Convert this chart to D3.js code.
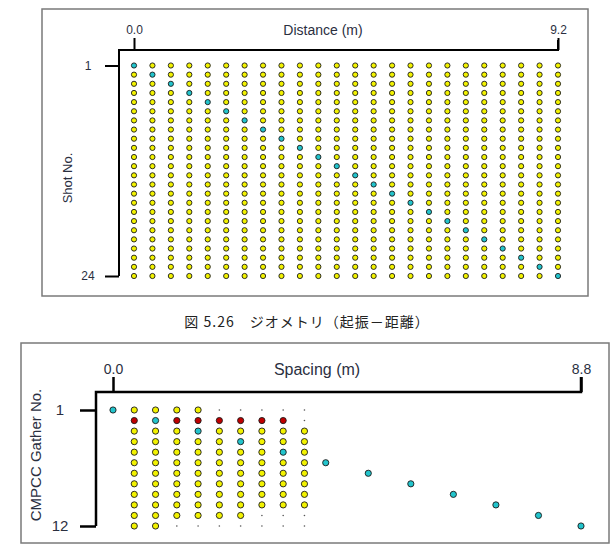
<!DOCTYPE html>
<html>
<head>
<meta charset="utf-8">
<script src="https://cdn.jsdelivr.net/npm/d3@7"></script>
<style>
  body { margin: 0; background: #fff; }
  text { font-family: "Liberation Sans", Arial, sans-serif; fill: #2b2f3f; }
</style>
</head>
<body>
<div id="chart"></div>
<script>
// top panel: shot / receiver geometry
const distance = [0.0, 0.4, 0.8, 1.2, 1.6, 2.0, 2.4, 2.8, 3.2, 3.6, 4.0, 4.4,
                  4.8, 5.2, 5.6, 6.0, 6.4, 6.8, 7.2, 7.6, 8.0, 8.4, 8.8, 9.2];
const shotNo = [1, 2, 3, 4, 5, 6, 7, 8, 9, 10, 11, 12,
                13, 14, 15, 16, 17, 18, 19, 20, 21, 22, 23, 24];
// source position of each shot (m)
const shotPos = [0.0, 0.4, 0.8, 1.2, 1.6, 2.0, 2.4, 2.8, 3.2, 3.6, 4.0, 4.4,
                 4.8, 5.2, 5.6, 6.0, 6.4, 6.8, 7.2, 7.6, 8.0, 8.4, 8.8, 9.2];
const topTicksX = [0.0, 9.2];
const topTicksY = [1, 24];

// bottom panel: CMPCC gathers
const spacing = [0.0, 0.4, 0.8, 1.2, 1.6, 2.0, 2.4, 2.8, 3.2, 3.6, 4.0, 4.4,
                 4.8, 5.2, 5.6, 6.0, 6.4, 6.8, 7.2, 7.6, 8.0, 8.4, 8.8];
const gatherNo = [1, 2, 3, 4, 5, 6, 7, 8, 9, 10, 11, 12];
// c = cyan, y = yellow, r = red, . = small dot, blank = nothing
const gatherRows = [
  "cyyyy.....",
  " rcrrrrrr.",
  " yyycyyyyy",
  " yyyyycyyy",
  " yyyyyyycy",
  " yyyyyyyyyc",
  " yyyyyyyyy  c",
  " yyyyyyyyy    c",
  " yyyyyyyyy      c",
  " yyyyyyyyy        c",
  " yyyyyy...          c",
  " yy.......            c"
];
const botTicksX = [0.0, 8.8];
const botTicksY = [1, 12];

const colors = { y: "#f2f200", c: "#22c4cc", r: "#c00000" };

const svg = d3.select("#chart").append("svg")
  .attr("width", 614).attr("height", 557);
svg.append("rect").attr("width", 614).attr("height", 557).attr("fill", "#fff");

// ---------- top panel ----------
svg.append("rect")
  .attr("x", 42).attr("y", 9).attr("width", 546).attr("height", 287)
  .attr("fill", "none").attr("stroke", "#7a7a7a").attr("stroke-width", 1.5);

const x1 = d3.scaleLinear().domain([0, 9.2]).range([134, 558]);
const y1 = d3.scaleLinear().domain([1, 24]).range([65.5, 276]);

const axTop1 = svg.append("g").attr("transform", "translate(0,50)")
  .call(d3.axisTop(x1).tickValues(topTicksX).tickSize(12).tickSizeOuter(0)
    .tickFormat(d3.format(".1f")));
axTop1.select(".domain").remove();
axTop1.selectAll("line").attr("stroke", "#000").attr("stroke-width", 2);
axTop1.selectAll("text").attr("font-size", 12).attr("dy", "-0.1em").style("fill", "#2b2f3f");

const axLeft1 = svg.append("g").attr("transform", "translate(119,0)")
  .call(d3.axisLeft(y1).tickValues(topTicksY).tickSize(14).tickSizeOuter(0));
axLeft1.select(".domain").remove();
axLeft1.selectAll("line").attr("stroke", "#000").attr("stroke-width", 2);
axLeft1.selectAll("text").attr("font-size", 12).attr("text-anchor", "middle")
  .attr("x", -31).style("fill", "#2b2f3f");

svg.append("path")
  .attr("d", `M${x1(9.2)},${40}V50H119V${y1(24)}`)
  .attr("fill", "none").attr("stroke", "#000").attr("stroke-width", 2);

svg.append("text").attr("x", 323).attr("y", 35).attr("text-anchor", "middle")
  .attr("font-size", 14).text("Distance (m)");
svg.append("text").attr("transform", "translate(72,178) rotate(-90)")
  .attr("text-anchor", "middle").attr("font-size", 13).text("Shot No.");

const grid1 = [];
shotNo.forEach((s, i) => {
  distance.forEach(d => grid1.push({ s: s, d: d, src: d === shotPos[i] }));
});
svg.append("g").selectAll("circle").data(grid1).join("circle")
  .attr("cx", d => x1(d.d)).attr("cy", d => y1(d.s)).attr("r", 2.6)
  .attr("fill", d => d.src ? colors.c : colors.y)
  .attr("stroke", "#1a1a1a").attr("stroke-width", 0.9);

// caption
svg.append("text").attr("x", 307).attr("y", 327).attr("text-anchor", "middle")
  .style("font-family", "'Noto Sans CJK JP', sans-serif").attr("font-size", 14)
  .style("letter-spacing", "1px")
  .style("fill", "#222").text("図 5.26　ジオメトリ（起振－距離）");

// ---------- bottom panel ----------
svg.append("rect")
  .attr("x", 21).attr("y", 343).attr("width", 588).attr("height", 200)
  .attr("fill", "none").attr("stroke", "#7a7a7a").attr("stroke-width", 1.5);

const x2 = d3.scaleLinear().domain([0, 8.8]).range([113, 581]);
const y2 = d3.scaleLinear().domain([1, 12]).range([410, 526]);

const axTop2 = svg.append("g").attr("transform", "translate(0,392)")
  .call(d3.axisTop(x2).tickValues(botTicksX).tickSize(15).tickSizeOuter(0)
    .tickFormat(d3.format(".1f")));
axTop2.select(".domain").remove();
axTop2.selectAll("line").attr("stroke", "#000").attr("stroke-width", 2.5);
axTop2.selectAll("text").attr("font-size", 14).attr("dy", "0em").style("fill", "#2b2f3f");

const axLeft2 = svg.append("g").attr("transform", "translate(96,0)")
  .call(d3.axisLeft(y2).tickValues(botTicksY).tickSize(16).tickSizeOuter(0));
axLeft2.select(".domain").remove();
axLeft2.selectAll("line").attr("stroke", "#000").attr("stroke-width", 2.5);
axLeft2.selectAll("text").attr("font-size", 15).attr("text-anchor", "middle")
  .attr("x", -36).style("fill", "#2b2f3f");

svg.append("path")
  .attr("d", `M${x2(8.8)},377V392H96V${y2(12)}`)
  .attr("fill", "none").attr("stroke", "#000").attr("stroke-width", 2.5);

svg.append("text").attr("x", 317).attr("y", 375).attr("text-anchor", "middle")
  .attr("font-size", 16).text("Spacing (m)");
svg.append("text").attr("transform", "translate(41,455) rotate(-90)")
  .attr("text-anchor", "middle").attr("font-size", 15).text("CMPCC Gather No.");

const grid2 = [];
gatherRows.forEach((row, i) => {
  row.split("").forEach((ch, j) => {
    if (ch !== " ") grid2.push({ g: gatherNo[i], s: spacing[j], k: ch });
  });
});
const g2 = svg.append("g");
g2.selectAll("circle.big").data(grid2.filter(d => d.k !== ".")).join("circle")
  .attr("class", "big")
  .attr("cx", d => x2(d.s)).attr("cy", d => y2(d.g)).attr("r", 3.1)
  .attr("fill", d => colors[d.k])
  .attr("stroke", "#1a1a1a").attr("stroke-width", 0.9);
g2.selectAll("circle.small").data(grid2.filter(d => d.k === ".")).join("circle")
  .attr("class", "small")
  .attr("cx", d => x2(d.s)).attr("cy", d => y2(d.g)).attr("r", 0.8)
  .attr("fill", "#555");
</script>
</body>
</html>
